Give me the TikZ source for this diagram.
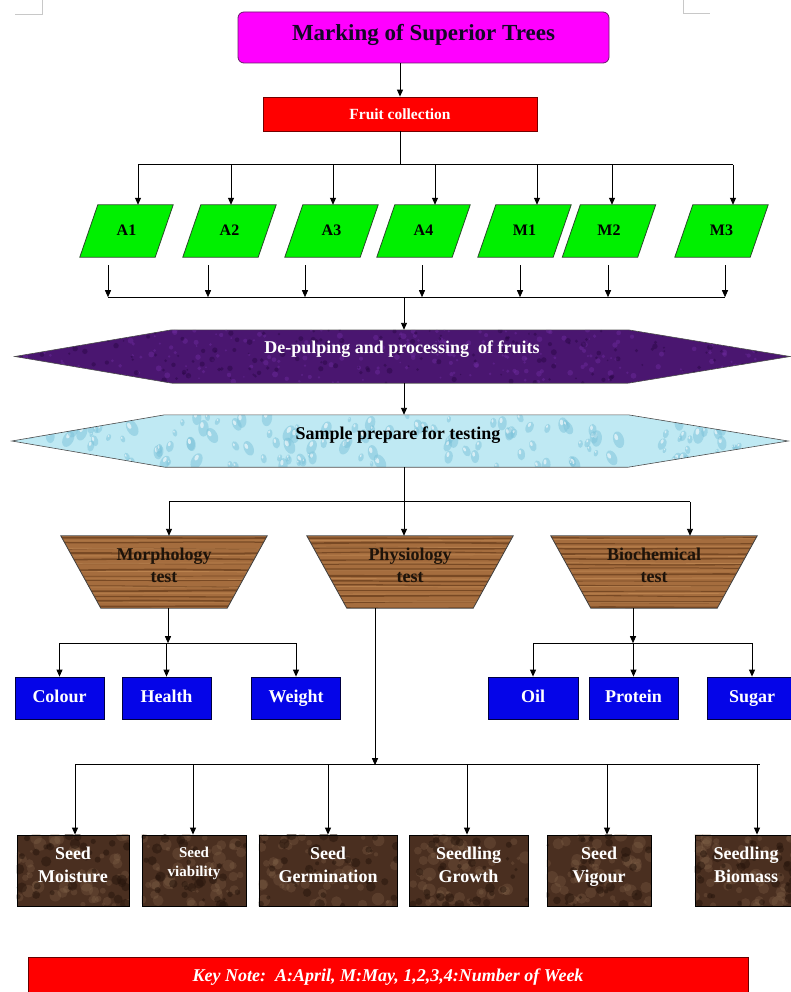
\documentclass[tikz,border=0pt]{standalone}
\usepackage{fontspec}
\setmainfont{Liberation Serif}
\usetikzlibrary{arrows.meta,calc}
\pgfdeclarelayer{bg}
\pgfsetlayers{bg,main}
\definecolor{magbox}{HTML}{FF00FF}
\definecolor{magline}{HTML}{6A1A6A}
\definecolor{titletext}{HTML}{140826}
\definecolor{leaf}{HTML}{00F000}
\definecolor{leafline}{HTML}{2A4A2A}
\definecolor{plum}{HTML}{4A1670}
\definecolor{plumL}{HTML}{6E2CA0}
\definecolor{plumD}{HTML}{2C0848}
\definecolor{aqua}{HTML}{BFE9F3}
\definecolor{aquaD}{HTML}{7CC3DA}
\definecolor{wood}{HTML}{A56D3E}
\definecolor{woodD}{HTML}{6A3E1C}
\definecolor{woodL}{HTML}{C8905A}
\definecolor{boxblue}{HTML}{0505E8}
\definecolor{soil}{HTML}{4A2F20}
\definecolor{soilL}{HTML}{8E6E52}
\definecolor{soilD}{HTML}{26150C}
\definecolor{markgray}{HTML}{C8C8C8}
\begin{document}
\begin{tikzpicture}[x=1pt,y=-1pt,
  conn/.style={line width=0.9pt,draw=black},
  arr/.style={conn,-{Triangle[length=7pt,width=6pt]}},
  slot/.style 2 args={rectangle,inner sep=0pt,minimum width=#1,minimum height=#2,align=center},
  lbl/.style 2 args={font=\bfseries\fontsize{#1}{#2}\selectfont,align=center,inner sep=0pt},
]
\useasboundingbox (0,0) rectangle (790,992);
\pgfmathsetseed{11}

% corner marks
\draw[markgray,line width=0.8pt] (15,14) -- (42,14) -- (42,0);
\draw[markgray,line width=0.8pt] (683,0) -- (683,13) -- (710,13);

% title
\node[slot={371}{51},draw=magline,fill=magbox,rounded corners=6pt,line width=0.8pt] (title) at (423.5,37.5) {};
\node[lbl={23}{25},text=titletext,anchor=base] (ttitle) at (423.5,41) {Marking of Superior Trees};
% fruit collection
\node[slot={274}{34},draw=red!45!black,fill=red,line width=0.8pt] (fruit) at (400,114) {};
\node[lbl={15.5}{17},text=white,anchor=base] (tfruit) at (400,119.5) {Fruit collection};
\draw[arr] (title.south -| fruit.north) -- (fruit.north);

% bus 1
\coordinate (b1) at ($(fruit.south)+(0,34)$);
\draw[conn] (fruit.south) -- (b1);

% parallelograms
\foreach \n/\cx/\ti/\to in {A1/126.5/11.5/-18.5, A2/229.5/1.5/-21.5, A3/331.5/1.5/-26.5,
    A4/423.5/11.5/-1.5, M1/524.5/12.5/-4.5, M2/609/3/-1, M3/721.5/11.5/3.5}{
  \node[slot={93}{52}] (\n) at (\cx,231) {};
  \node[lbl={16}{16},anchor=base] (t\n) at (\cx,236) {\n};
  \begin{pgfonlayer}{bg}
    \draw[fill=leaf,draw=leafline,line width=0.8pt]
      (\n.south west) -- ($(\n.north west)+(18,0)$) -- (\n.north east)
      -- ($(\n.south east)+(-18,0)$) -- cycle;
  \end{pgfonlayer}
  \draw[arr] ($(\n.north)+(\ti,-40)$) -- ($(\n.north)+(\ti,0)$);
  \draw[arr] ($(\n.south)+(\to,8)$) -- ($(\n.south)+(\to,40)$);
}
\draw[conn] ($(A1.north)+(11.5,-40)$) -- ($(M3.north)+(11.5,-40)$);
\draw[conn] ($(A1.south)+(-18.5,40)$) -- ($(M3.south)+(3.5,40)$);
\coordinate (b2) at ($(A4.south)+(-19.5,40)$);

% hexagon 1
\node[slot={775}{53}] (hex1) at (402.5,356.5) {};
\node[lbl={18}{20},text=white,anchor=base] (thex1) at (402,353) {De-pulping and processing\ \ of fruits};
\begin{pgfonlayer}{bg}
  \begin{scope}
    \clip (hex1.west) -- ($(hex1.north west)+(157,0)$) -- ($(hex1.north east)+(-162,0)$)
      -- (hex1.east) -- ($(hex1.south east)+(-162,0)$) -- ($(hex1.south west)+(157,0)$) -- cycle;
    \fill[plum] (hex1.north west) rectangle (hex1.south east);
    \foreach \i in {1,...,260}{
      \pgfmathsetmacro\px{15+rnd*775}\pgfmathsetmacro\py{330+rnd*53}\pgfmathsetmacro\pr{0.8+rnd*2.2}
      \fill[plumL,opacity=0.45] (\px,\py) circle (\pr);
    }
    \foreach \i in {1,...,200}{
      \pgfmathsetmacro\px{15+rnd*775}\pgfmathsetmacro\py{330+rnd*53}\pgfmathsetmacro\pr{0.8+rnd*2.2}
      \fill[plumD,opacity=0.5] (\px,\py) circle (\pr);
    }
  \end{scope}
  \draw[gray!60!black,line width=0.6pt] (hex1.west) -- ($(hex1.north west)+(157,0)$) -- ($(hex1.north east)+(-162,0)$)
      -- (hex1.east) -- ($(hex1.south east)+(-162,0)$) -- ($(hex1.south west)+(157,0)$) -- cycle;
\end{pgfonlayer}
\draw[arr] (b2) -- (b2 |- hex1.north);

% hexagon 2
\node[slot={776}{52}] (hex2) at (400,441) {};
\node[lbl={18}{20},text=black,anchor=base] (thex2) at (398,439) {Sample prepare for testing};
\begin{pgfonlayer}{bg}
  \begin{scope}
    \clip (hex2.west) -- ($(hex2.north west)+(153,0)$) -- ($(hex2.north east)+(-160,0)$)
      -- (hex2.east) -- ($(hex2.south east)+(-160,0)$) -- ($(hex2.south west)+(153,0)$) -- cycle;
    \fill[aqua] (hex2.north west) rectangle (hex2.south east);
    \foreach \i in {1,...,170}{
      \pgfmathsetmacro\px{12+rnd*776}\pgfmathsetmacro\py{415+rnd*52}\pgfmathsetmacro\pr{1.5+rnd*4}
      \pgfmathsetmacro\pa{rnd*60-30}
      \fill[aquaD,opacity=0.5,rotate around={\pa:(\px,\py)}] (\px,\py) ellipse ({\pr} and {1.6*\pr});
      \fill[white,opacity=0.6,rotate around={\pa:(\px,\py)}] (\px-0.3*\pr,\py-0.6*\pr) ellipse ({0.35*\pr} and {0.6*\pr});
    }
  \end{scope}
  \draw[gray!60!black,line width=0.6pt] (hex2.west) -- ($(hex2.north west)+(153,0)$) -- ($(hex2.north east)+(-160,0)$)
      -- (hex2.east) -- ($(hex2.south east)+(-160,0)$) -- ($(hex2.south west)+(153,0)$) -- cycle;
\end{pgfonlayer}
\draw[arr] (b2 |- hex1.south) -- (b2 |- hex2.north);
\coordinate (b3) at ($(b2 |- hex2.south)+(0,35)$);
\draw[conn] (b2 |- hex2.south) -- (b3);

% trapezoids
\foreach \n/\cx/\l/\ax in {morph/164/{Morphology\\test}/169, phys/410/{Physiology\\test}/404, bioc/654/{Biochemical\\test}/690}{
  \node[slot={206}{72}] (\n) at (\cx,572) {};
  \node[lbl={18}{22},text=black!85!brown,anchor=north] (t\n) at (\cx,548) {\l};
  \begin{pgfonlayer}{bg}
    \begin{scope}
      \clip (\n.north west) -- (\n.north east) -- ($(\n.south east)+(-40,0)$) -- ($(\n.south west)+(40,0)$) -- cycle;
      \fill[wood] (\n.north west) rectangle (\n.south east);
      \foreach \k in {0,...,13}{
        \pgfmathsetmacro\yy{537+\k*5.3+rnd*2}\pgfmathsetmacro\lw{0.5+rnd*1.6}
        \pgfmathsetmacro\da{rnd*4-2}\pgfmathsetmacro\db{rnd*4-2}
        \draw[woodD,line width=\lw pt,opacity=0.75] (\cx-105,\yy) .. controls (\cx-40,\yy+\da) and (\cx+40,\yy+\db) .. (\cx+105,\yy);
      }
      \foreach \k in {0,...,8}{
        \pgfmathsetmacro\yy{539+\k*7.7+rnd*2}
        \draw[woodL,line width=0.9pt,opacity=0.6] (\cx-105,\yy) -- (\cx+105,\yy+rnd*2-1);
      }
    \end{scope}
    \draw[black!75,line width=0.8pt] (\n.north west) -- (\n.north east) -- ($(\n.south east)+(-40,0)$) -- ($(\n.south west)+(40,0)$) -- cycle;
  \end{pgfonlayer}
  \draw[arr] ($(\n.north)+(\ax-\cx,-34)$) -- ($(\n.north)+(\ax-\cx,0)$);
}
\draw[conn] ($(morph.north)+(5,-34)$) -- ($(bioc.north)+(36,-34)$);

% blue boxes
\foreach \n/\cx/\w/\l in {colour/59.5/89/Colour, health/166.5/89/Health, weight/296/89/Weight,
    oil/533/90/Oil, prot/633.5/89/Protein, sugar/752/90/Sugar}{
  \node[slot={\w}{42},fill=boxblue,draw=blue!25!black,line width=0.8pt] (\n) at (\cx,698) {};
  \node[lbl={18}{20},text=white,anchor=base] (t\n) at (\cx,702.5) {\l};
}
\coordinate (mb) at ($(morph.south)+(4,35)$);
\draw[arr] ($(morph.south)+(4,0)$) -- (mb);
\draw[conn] (mb -| colour.north) -- (mb -| weight.north);
\foreach \t in {colour,health,weight}{\draw[arr] (mb -| \t.north) -- (\t.north);}
\coordinate (bb) at ($(bioc.south)+(-21,35)$);
\draw[arr] ($(bioc.south)+(-21,0)$) -- (bb);
\draw[conn] (bb -| oil.north) -- (bb -| sugar.north);
\foreach \t in {oil,prot,sugar}{\draw[arr] (bb -| \t.north) -- (\t.north);}

% physiology branch
\coordinate (pb) at ($(phys.south)+(-35,157)$);
\draw[arr] ($(phys.south)+(-35,0)$) -- (pb);

\foreach \n/\cx/\w/\l/\ax/\fs/\ls in {moist/73/112/{Seed\\Moisture}/75/18/23,
    viab/194/104/{Seed\\viability}/193/15/19, germ/328/138/{Seed\\Germination}/328/18/23,
    grow/468.5/119/{Seedling\\Growth}/467/18/23, vig/599/104/{Seed\\Vigour}/607/18/23,
    biom/746/102/{Seedling\\Biomass}/757/18/23}{
  \node[slot={\w}{71},draw=black,line width=0.8pt] (\n) at (\cx,870.5) {};
  \begin{pgfonlayer}{bg}
    \begin{scope}
      \clip (\n.south west) rectangle (\n.north east);
      \fill[soil] (\n.south west) rectangle (\n.north east);
      \foreach \i in {1,...,55}{
        \pgfmathsetmacro\px{\cx-\w/2+rnd*\w}\pgfmathsetmacro\py{835+rnd*71}\pgfmathsetmacro\pr{1.5+rnd*5}
        \fill[soilL,opacity=0.25] (\px,\py) circle (\pr);
      }
      \foreach \i in {1,...,35}{
        \pgfmathsetmacro\px{\cx-\w/2+rnd*\w}\pgfmathsetmacro\py{835+rnd*71}\pgfmathsetmacro\pr{1.5+rnd*4}
        \fill[soilD,opacity=0.5] (\px,\py) circle (\pr);
      }
    \end{scope}
  \end{pgfonlayer}
  \node[lbl={\fs}{\ls},text=white,anchor=north] (t\n) at (\cx,846.5) {\l};
  \draw[arr] ($(\n.north)+(\ax-\cx,-70)$) -- ($(\n.north)+(\ax-\cx,0)$);
}
\draw[conn] ($(moist.north)+(2,-70)$) -- ($(biom.north)+(14,-70)$);

% key note
\node[slot={720}{46},fill=red,draw=red!40!black,line width=0.8pt] (key) at (388,980) {};
\node[font=\bfseries\itshape\fontsize{18}{20}\selectfont,text=white,inner sep=0pt,anchor=base] (keyt) at (388,981)
  {Key Note:\ \ A:April, M:May, 1,2,3,4:Number of Week};
\end{tikzpicture}
\end{document}
